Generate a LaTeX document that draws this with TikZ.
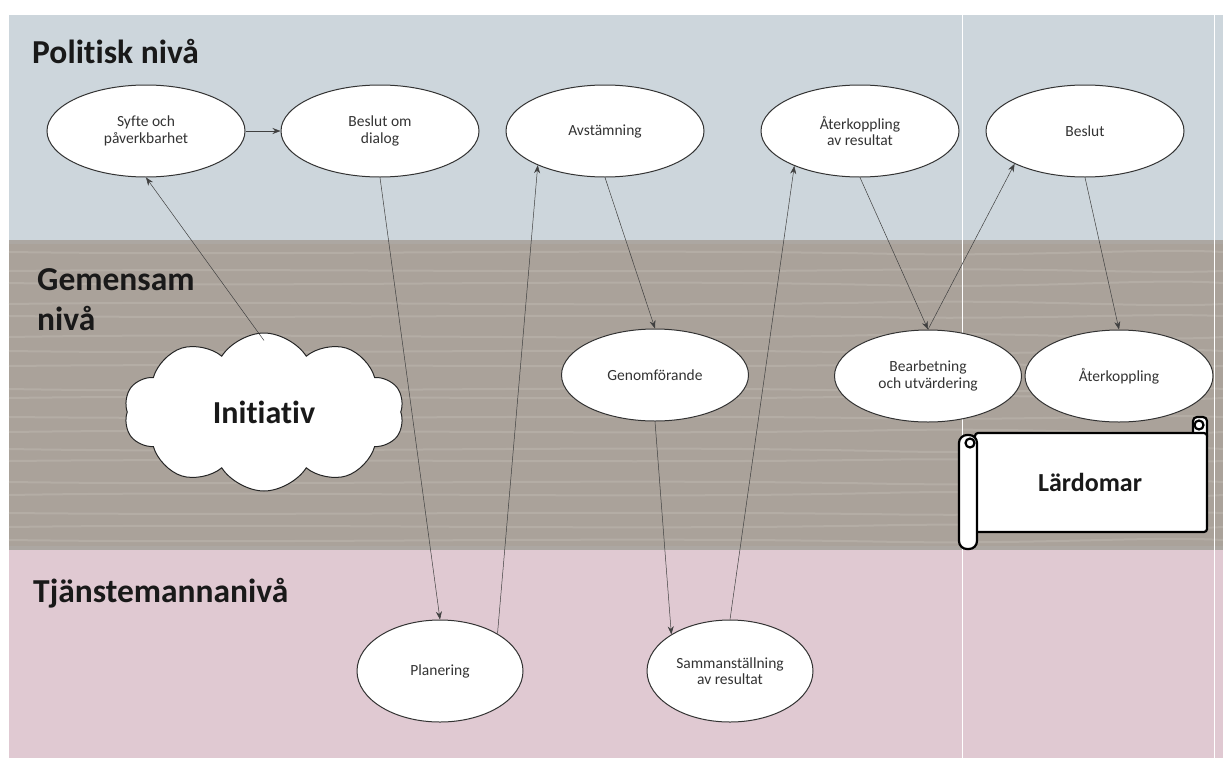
\documentclass[tikz,border=0pt]{standalone}
\usepackage{fontspec}
\setmainfont{Carlito}[Ligatures=CommonOff]
\usetikzlibrary{shapes.geometric,shapes.symbols,arrows.meta}
\definecolor{skyband}{HTML}{CDD6DC}
\definecolor{woodband}{HTML}{AAA29A}
\definecolor{woodlight}{HTML}{C8C2BB}
\definecolor{pinkband}{HTML}{E0C9D2}
\definecolor{txtgray}{HTML}{333333}
\tikzset{
  proc/.style={ellipse, draw=black!80, line width=1pt, fill=white,
    minimum width=198pt, minimum height=92pt, inner sep=0pt, align=center,
    font=\fontsize{15.5}{16.5}\selectfont, text=txtgray},
  conn/.style={line width=0.5pt, draw=black!75, -{Stealth[length=8pt,width=6pt]}},
  levellabel/.style={font=\bfseries\fontsize{33.5}{40}\selectfont, text=black!90, inner sep=0pt},
  rollline/.style={line width=2.2pt, draw=black, fill=white, line join=round}
}
\begin{document}
\begin{tikzpicture}[x=1pt,y=-1pt]
\useasboundingbox (0,0) rectangle (1223,758);
% bands
\fill[white] (0,0) rectangle (1223,758);
\fill[skyband] (9,15) rectangle (1223,240);
\fill[woodband] (9,240) rectangle (1223,550);
\fill[pinkband] (9,550) rectangle (1223,758);
% wood grain
\foreach \yy/\dd in {252/4,271/-3,283/5,304/-4,316/3,337/-5,351/4,366/-3,389/5,398/-4,417/3,432/-4,449/5,461/-3,482/4,495/-5,513/3,527/-4,540/4}{
  \draw[woodlight, opacity=0.35, line width=2pt]
    (9,\yy) .. controls (300,\yy+\dd) and (600,\yy-\dd) .. (900,\yy+\dd/2)
    .. controls (1050,\yy+\dd) and (1150,\yy-\dd) .. (1223,\yy);
}
\fill[black!30, opacity=0.35] (9,240) rectangle (1223,244);
\fill[black!30, opacity=0.35] (9,546) rectangle (1223,550);
% thin white separators
\draw[white, line width=1pt] (962,15) -- (962,758);
\draw[white, line width=1pt] (1214,15) -- (1214,758);

% level labels
\node[levellabel, anchor=base west] (politisk) at (32,63) {Politisk nivå};
\node[levellabel, anchor=north west, align=left] (gemensam) at (37,268) {Gemensam\\nivå};
\node[levellabel, anchor=base west] (tjanste) at (33,602) {Tjänstemannanivå};

% process ellipses
\node[proc] (syfte) at (146,131) {Syfte och\\påverkbarhet};
\node[proc] (beslutdlg) at (380,131) {Beslut om\\dialog};
\node[proc] (avst) at (605,131) {Avstämning};
\node[proc] (aterres) at (860,131) {Återkoppling\\av resultat};
\node[proc] (beslut) at (1085,131) {Beslut};
\node[proc, minimum width=187pt] (genom) at (655,375) {Genomförande};
\node[proc, minimum width=187pt] (bearb) at (928,376) {Bearbetning\\och utvärdering};
\node[proc, minimum width=188pt] (aterk) at (1119,376) {Återkoppling};
\node[proc, minimum width=166pt, minimum height=102pt] (plan) at (440,671) {Planering};
\node[proc, minimum width=166pt, minimum height=102pt] (samm) at (730,671) {Sammanställning\\av resultat};

% cloud
\node[cloud, cloud puffs=10, cloud puff arc=115, aspect=1.75, draw=black!85, line width=1pt,
  fill=white, minimum width=280pt, minimum height=158pt, inner sep=0pt,
  font=\bfseries\fontsize{32}{34}\selectfont, text=black!90] (init) at (264,412) {Initiativ};

% scroll
\draw[rollline, rounded corners=4pt] (1193,417) rectangle (1207,440);
\draw[rollline, rounded corners=3pt] (975,433) rectangle (1207,532);
\draw[rollline] (1199,425) circle (4.5pt);
\draw[rollline, rounded corners=8pt] (959,435) rectangle (977,549);
\draw[rollline] (970,443) circle (4.5pt);
\node[font=\bfseries\fontsize{26}{28}\selectfont, text=black!90] (lard) at (1090,482) {Lärdomar};

% connectors
\draw[conn] (syfte.east) -- (beslutdlg.west);
\draw[conn] ([yshift=-8pt]init.north) -- (syfte.south);
\draw[conn] (beslutdlg.south) -- (plan.north);
\draw[conn] (plan.33) -- (avst.207);
\draw[conn] (avst.south) -- (genom.north);
\draw[conn] (genom.south) -- (samm.148);
\draw[conn] (samm.north) -- (aterres.208);
\draw[conn] (aterres.south) -- (bearb.north);
\draw[conn] (bearb.north) -- (beslut.205);
\draw[conn] (beslut.south) -- (aterk.north);
\end{tikzpicture}
\end{document}
